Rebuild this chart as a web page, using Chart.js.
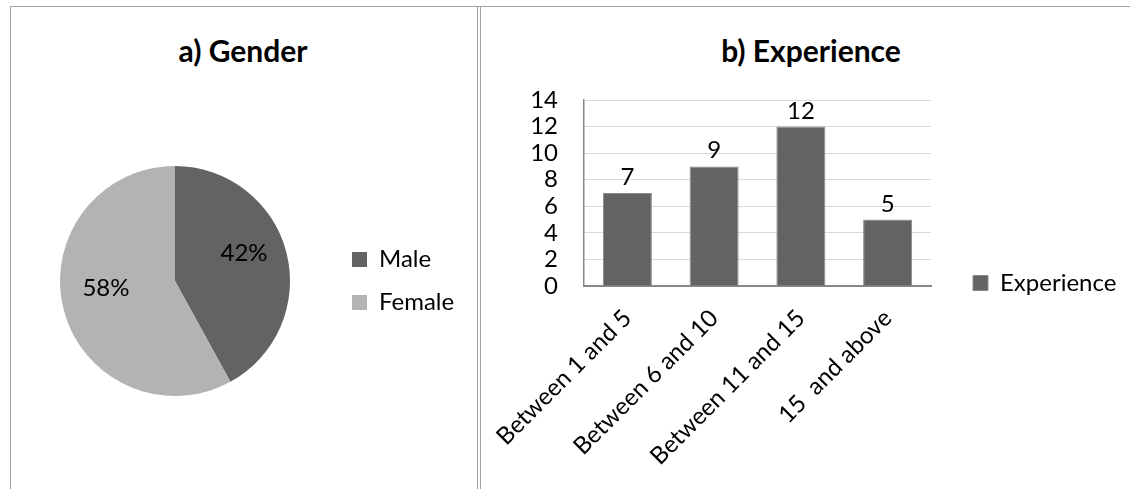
<!DOCTYPE html>
<html>
<head>
<meta charset="utf-8">
<script src="https://cdn.jsdelivr.net/npm/chart.js@4.4.1/dist/chart.umd.min.js"></script>
<style>
  html, body { margin: 0; padding: 0; background: #fff; }
  body { position: relative; width: 1130px; height: 489px; overflow: hidden; font-family: Lato, "DejaVu Sans", sans-serif; }
  .rule { position: absolute; background: #a3a3a3; }
  .title { position: absolute; text-align: center; font-weight: bold; font-size: 30px; line-height: 36px; color: #000; }
  canvas { position: absolute; }
</style>
</head>
<body>
<!-- panel frame -->
<div class="rule" style="left:10px; top:6px; width:1120px; height:1px;"></div>
<div class="rule" style="left:10px; top:6px; width:1px; height:483px;"></div>
<div class="rule" style="left:477px; top:6px; width:1px; height:483px;"></div>
<div class="rule" style="left:480px; top:6px; width:1px; height:483px;"></div>

<div class="title" style="left:0px; top:32px; width:486px;">a) Gender</div>
<div class="title" style="left:611px; top:32px; width:400px;">b) Experience</div>

<canvas id="gender" width="460" height="362" style="left:10px; top:100px;"></canvas>
<canvas id="experience" width="690" height="419" style="left:440px; top:70px;"></canvas>

<script>
// Gender split (percent)
const genderLabels = ['Male', 'Female'];
const genderShares = [42, 58];

// Years of experience (respondent counts)
const experienceLabels = ['Between 1 and 5', 'Between 6 and 10', 'Between 11 and 15', '15  and above'];
const experienceCounts = [7, 9, 12, 5];
const experienceAxisMax = 14;
const experienceAxisStep = 2;

const FONT = 'Lato, "DejaVu Sans", sans-serif';
const TEXT_SIZE = 24;
const BOX = 15;
const DARK = '#636363';
const LIGHT = '#b3b3b3';

Chart.defaults.font.family = FONT;
Chart.defaults.color = '#000';

// Width Chart.js gives a vertical legend: padding + box + half font + longest text + 10
function legendWidth(texts, padding) {
  const ctx = document.createElement('canvas').getContext('2d');
  ctx.font = TEXT_SIZE + 'px ' + FONT;
  const longest = Math.max(...texts.map(t => ctx.measureText(t).width));
  return padding + BOX + TEXT_SIZE / 2 + longest + 10;
}

// Percent labels placed inside each slice
const pieValueLabels = {
  id: 'pieValueLabels',
  afterDatasetsDraw(chart) {
    const ctx = chart.ctx;
    const meta = chart.getDatasetMeta(0);
    ctx.save();
    ctx.font = TEXT_SIZE + 'px ' + FONT;
    ctx.fillStyle = '#000';
    ctx.textAlign = 'center';
    ctx.textBaseline = 'middle';
    meta.data.forEach((arc, i) => {
      const p = arc.getProps(['startAngle', 'endAngle', 'outerRadius', 'x', 'y'], true);
      const mid = (p.startAngle + p.endAngle) / 2;
      const r = p.outerRadius * 0.62;
      ctx.fillText(chart.data.datasets[0].data[i] + '%', p.x + r * Math.cos(mid), p.y + r * Math.sin(mid) - 10);
    });
    ctx.restore();
  }
};

// Count labels above each bar
const barValueLabels = {
  id: 'barValueLabels',
  afterDatasetsDraw(chart) {
    const ctx = chart.ctx;
    const meta = chart.getDatasetMeta(0);
    ctx.save();
    ctx.font = TEXT_SIZE + 'px ' + FONT;
    ctx.fillStyle = '#000';
    ctx.textAlign = 'center';
    ctx.textBaseline = 'alphabetic';
    meta.data.forEach((bar, i) => {
      const p = bar.getProps(['x', 'y'], true);
      ctx.fillText(String(chart.data.datasets[0].data[i]), p.x, p.y - 8);
    });
    ctx.restore();
  }
};

// ---- a) Gender pie ----
const pieCanvasWidth = 460;
const pieLegendPadding = 19;
const pieLegendLeft = 323;   // legend box left edge inside the canvas
const pieRightPad = pieCanvasWidth - pieLegendLeft - legendWidth(genderLabels, pieLegendPadding);

new Chart(document.getElementById('gender'), {
  type: 'pie',
  data: {
    labels: genderLabels,
    datasets: [{
      data: genderShares,
      backgroundColor: [DARK, LIGHT],
      borderWidth: 0,
      radius: 115
    }]
  },
  options: {
    responsive: false,
    animation: false,
    events: [],
    layout: { padding: { left: 7, right: pieRightPad, top: 0, bottom: 0 } },
    plugins: {
      legend: {
        position: 'right',
        maxWidth: 400,
        labels: {
          boxWidth: BOX,
          boxHeight: BOX,
          padding: pieLegendPadding,
          color: '#000',
          font: { size: TEXT_SIZE, family: FONT }
        }
      },
      tooltip: { enabled: false },
      title: { display: false }
    }
  },
  plugins: [pieValueLabels]
});

// ---- b) Experience bars ----
const barCanvasWidth = 690;
const barLegendPadding = 42;
const barLegendLeft = 491;
const barRightPad = barCanvasWidth - barLegendLeft - legendWidth(['Experience'], barLegendPadding);

new Chart(document.getElementById('experience'), {
  type: 'bar',
  data: {
    labels: experienceLabels,
    datasets: [{
      label: 'Experience',
      data: experienceCounts,
      backgroundColor: DARK,
      borderColor: '#8a8a8a',
      borderWidth: 1,
      categoryPercentage: 1,
      barPercentage: 0.565
    }]
  },
  options: {
    responsive: false,
    animation: false,
    events: [],
    layout: { padding: { left: 84, right: barRightPad, top: 30, bottom: 23 } },
    scales: {
      x: {
        grid: { display: false, drawTicks: false },
        border: { display: true, color: '#878787', width: 2 },
        ticks: {
          autoSkip: false,
          minRotation: 45,
          maxRotation: 45,
          padding: 18,
          color: '#000',
          font: { size: TEXT_SIZE, family: FONT }
        },
        afterFit(scale) { scale.height = 180; }
      },
      y: {
        min: 0,
        max: experienceAxisMax,
        grid: { color: '#d9d9d9', lineWidth: 1, drawTicks: true, tickLength: 26, tickColor: 'rgba(0,0,0,0)' },
        border: { display: true, color: '#878787', width: 1.5 },
        ticks: {
          stepSize: experienceAxisStep,
          autoSkip: false,
          padding: 0,
          color: '#000',
          font: { size: TEXT_SIZE, family: FONT }
        },
        afterFit(scale) { scale.width = 60; }
      }
    },
    plugins: {
      legend: {
        position: 'right',
        maxWidth: 400,
        labels: {
          boxWidth: BOX,
          boxHeight: BOX,
          padding: barLegendPadding,
          color: '#000',
          font: { size: TEXT_SIZE, family: FONT }
        }
      },
      tooltip: { enabled: false },
      title: { display: false }
    }
  },
  plugins: [barValueLabels]
});
</script>
</body>
</html>
